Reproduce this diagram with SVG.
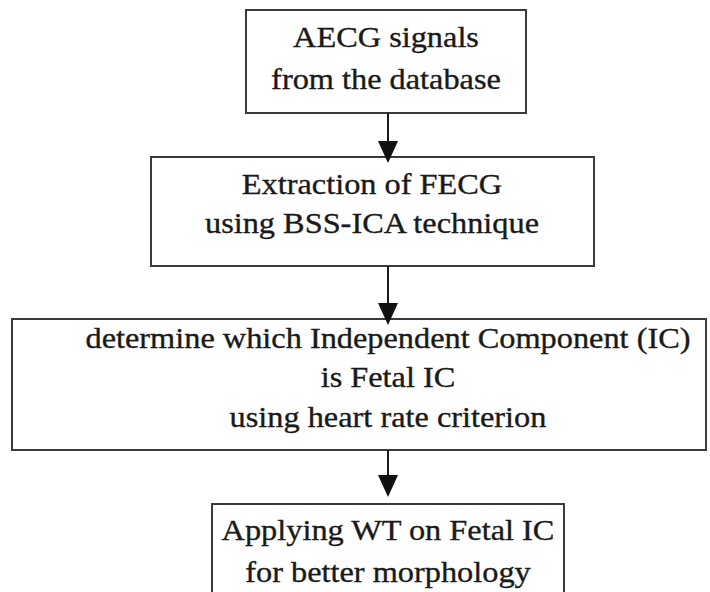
<svg xmlns="http://www.w3.org/2000/svg" width="710" height="592" viewBox="0 0 710 592">
<defs>
<style>
.box{fill:#fff;stroke:#3a3a3a;stroke-width:2}
.t{font-family:"Liberation Serif","Times New Roman",serif;font-size:29px;fill:#1a1a1a;stroke:#1a1a1a;stroke-width:0.35;text-anchor:middle}
.c{stroke:#1a1a1a;stroke-width:2;fill:none}
.h{fill:#111}
</style>
</defs>
<rect width="710" height="592" fill="#fff"/>
<g id="n1">
<rect class="box" x="246" y="10" width="280" height="103"/>
<g transform="translate(386,0) scale(1.115,1)">
<text class="t" x="0" y="47">AECG signals</text>
<text class="t" x="0" y="89">from the database</text>
</g>
</g>
<g id="n2">
<rect class="box" x="151" y="157" width="443" height="109"/>
<g transform="translate(372,0) scale(1.115,1)">
<text class="t" x="0" y="194">Extraction of FECG</text>
<text class="t" x="0" y="233">using BSS-ICA technique</text>
</g>
</g>
<g id="n3">
<rect class="box" x="12" y="319" width="694" height="131"/>
<g transform="translate(388,0) scale(1.115,1)">
<text class="t" x="0" y="348">determine which Independent Component (IC)</text>
<text class="t" x="0" y="387">is Fetal IC</text>
<text class="t" x="0" y="427">using heart rate criterion</text>
</g>
</g>
<g id="n4">
<rect class="box" x="212" y="504" width="352" height="100"/>
<g transform="translate(388,0) scale(1.115,1)">
<text class="t" x="0" y="540">Applying WT on Fetal IC</text>
<text class="t" x="0" y="582">for better morphology</text>
</g>
</g>
<g id="connectors">
<line class="c" x1="388" y1="113" x2="388" y2="145"/>
<path class="h" d="M378,141 L398,141 L388,163 Z"/>
<line class="c" x1="388" y1="266" x2="388" y2="306"/>
<path class="h" d="M378,303 L398,303 L388,325 Z"/>
<line class="c" x1="388" y1="450" x2="388" y2="478"/>
<path class="h" d="M378,475 L398,475 L388,497 Z"/>
</g>
</svg>
